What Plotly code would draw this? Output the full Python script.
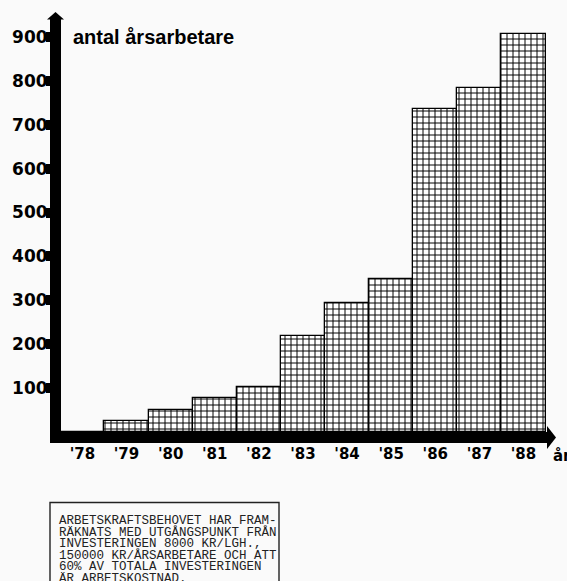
import plotly.graph_objects as go

# ---- data ----
years = [78, 79, 80, 81, 82, 83, 84, 85, 86, 87, 88]
year_labels = ["'78", "'79", "'80", "'81", "'82", "'83", "'84", "'85", "'86", "'87", "'88"]
workers = [0, 25, 50, 78, 102, 219, 293, 348, 736, 784, 906]
y_ticks = [100, 200, 300, 400, 500, 600, 700, 800, 900]
y_title = "antal årsarbetare"
x_title = "år"
note_lines = [
    "ARBETSKRAFTSBEHOVET HAR FRAM-",
    "RÄKNATS MED UTGÅNGSPUNKT FRÅN",
    "INVESTERINGEN 8000 KR/LGH.,",
    "150000 KR/ÅRSARBETARE OCH ATT",
    "60% AV TOTALA INVESTERINGEN",
    "ÄR ARBETSKOSTNAD.",
]

W, H = 567, 581
BG = "#fafafa"


def px(x):
    return x / W


def py(y):
    return 1 - y / H


fig = go.Figure()
fig.add_bar(
    x=years,
    y=workers,
    width=1.0,
    marker=dict(
        color="white",
        line=dict(color="black", width=1.3),
        pattern=dict(shape="+", size=6, solidity=0.3, fgcolor="black",
                     bgcolor="white", fillmode="replace"),
    ),
    hoverinfo="skip",
)

shapes = [
    # vertical axis bar + arrowhead
    dict(type="rect", xref="paper", yref="paper", x0=px(50), x1=px(61),
         y0=py(443), y1=py(19), fillcolor="black", line=dict(width=0), layer="above"),
    dict(type="path", xref="paper", yref="paper",
         path=f"M{px(47)},{py(19.5)} L{px(55.5)},{py(12)} L{px(64)},{py(19.5)} Z",
         fillcolor="black", line=dict(width=0), layer="above"),
    # horizontal axis bar + arrowhead
    dict(type="rect", xref="paper", yref="paper", x0=px(50), x1=px(548),
         y0=py(443), y1=py(432), fillcolor="black", line=dict(width=0), layer="above"),
    dict(type="path", xref="paper", yref="paper",
         path=f"M{px(547)},{py(426)} L{px(556)},{py(437.5)} L{px(547)},{py(449)} Z",
         fillcolor="black", line=dict(width=0), layer="above"),
    # note box
    dict(type="rect", xref="paper", yref="paper", x0=px(50), x1=px(279),
         y0=py(502.5), y1=py(620), fillcolor="rgba(0,0,0,0)",
         line=dict(color="#222", width=1.4), layer="above"),
]

annotations = [
    dict(text=y_title, xref="paper", yref="paper", x=px(71), y=py(37),
         xanchor="left", yanchor="middle", showarrow=False,
         font=dict(family="Liberation Sans", size=20, color="black", weight="bold")),
    dict(text=x_title, xref="paper", yref="paper", x=px(551), y=py(456),
         xanchor="left", yanchor="middle", showarrow=False,
         font=dict(family="DejaVu Sans", size=15, color="black", weight="bold")),
]
line_y0, line_dy = 520.7, 11.67
for i, t in enumerate(note_lines):
    annotations.append(dict(
        text=t, xref="paper", yref="paper", x=px(57), y=py(line_y0 + i * line_dy),
        xanchor="left", yanchor="middle", showarrow=False,
        font=dict(family="Liberation Mono", size=12.5, color="#222")))

fig.update_layout(
    width=W, height=H,
    margin=dict(l=0, r=0, t=0, b=0, pad=0),
    paper_bgcolor=BG, plot_bgcolor=BG,
    showlegend=False,
    bargap=0,
    shapes=shapes,
    annotations=annotations,
    xaxis=dict(
        range=[76.132, 88.986], domain=[0, 1], anchor="free", position=1 - 443 / H,
        tickmode="array", tickvals=years, ticktext=year_labels,
        showgrid=False, zeroline=False, showline=False, ticks="",
        tickfont=dict(family="DejaVu Sans", size=15, color="black", weight="bold"),
        fixedrange=True,
    ),
    yaxis=dict(
        range=[-339.4, 984.05], domain=[0, 1], anchor="free", position=50 / W,
        side="left",
        tickmode="array", tickvals=y_ticks, ticktext=[str(v) for v in y_ticks],
        showgrid=False, zeroline=False, showline=False,
        ticks="outside", ticklen=4, tickwidth=10, tickcolor="black",
        ticklabelstandoff=-5,
        tickfont=dict(family="DejaVu Sans", size=17, color="black", weight="bold"),
        fixedrange=True,
    ),
)

fig.write_html(
    "out.html",
    config={"displayModeBar": False},
    post_script="document.body.style.margin='0';document.body.style.background='#fafafa';",
)
